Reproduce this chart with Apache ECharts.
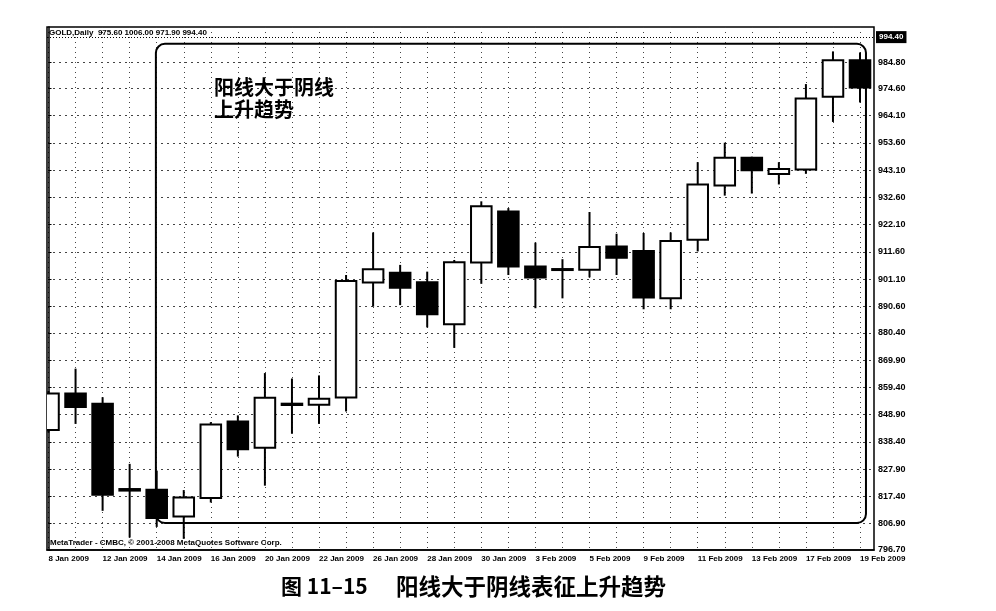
<!DOCTYPE html>
<html>
<head>
<meta charset="utf-8">
<script src="https://cdn.jsdelivr.net/npm/echarts@6/dist/echarts.min.js"></script>
<style>
html,body{margin:0;padding:0;background:#fff;}
#c{width:996px;height:611px;}
</style>
</head>
<body>
<div id="c"></div>
<script>
// ---- data ----
const dates = ['8 Jan 2009','9 Jan 2009','12 Jan 2009','13 Jan 2009','14 Jan 2009','15 Jan 2009','16 Jan 2009',
  '19 Jan 2009','20 Jan 2009','21 Jan 2009','22 Jan 2009','23 Jan 2009','26 Jan 2009','27 Jan 2009','28 Jan 2009',
  '29 Jan 2009','30 Jan 2009','2 Feb 2009','3 Feb 2009','4 Feb 2009','5 Feb 2009','6 Feb 2009','9 Feb 2009',
  '10 Feb 2009','11 Feb 2009','12 Feb 2009','13 Feb 2009','16 Feb 2009','17 Feb 2009','18 Feb 2009','19 Feb 2009'];
const openV  = [843.0,857.0,853.1,819.6,819.9,809.6,816.7,846.2,836.1,853.1,852.7,855.5,899.8,903.6,899.9,883.7,907.5,927.2,906.0,904.8,904.7,913.7,912.0,893.7,916.3,937.2,947.9,941.6,943.4,971.4,985.5];
const closeV = [857.0,851.8,818.0,820.2,809.0,816.9,845.1,835.5,855.4,852.6,855.0,900.4,904.9,897.8,887.6,907.6,929.2,906.0,901.7,905.0,913.5,909.4,894.0,915.8,937.6,947.9,943.1,943.6,970.7,985.5,975.0];
const lowV   = [842.0,845.3,811.8,801.5,805.6,801.0,815.0,832.7,821.5,841.5,845.3,850.1,890.5,891.1,882.5,874.6,899.3,902.7,889.9,893.7,901.8,902.7,889.5,889.5,911.8,933.3,934.1,937.6,941.7,961.7,969.2];
const highV  = [858.0,866.6,855.6,829.9,827.3,819.8,846.0,848.6,864.9,862.8,864.0,902.7,919.1,906.6,904.0,908.5,931.1,928.5,915.2,908.8,927.0,918.6,918.9,919.1,946.2,953.7,948.3,946.2,976.3,988.9,988.5];
const priceTicks = [796.70,806.90,817.40,827.90,838.40,848.90,859.40,869.90,880.40,890.60,901.10,911.60,922.10,932.60,943.10,953.60,964.10,974.60,984.80];
const labelIdx = [0,2,4,6,8,10,12,14,16,18,20,22,24,26,28,30];
const lastPrice = 994.40;
const headerText = 'GOLD,Daily  975.60 1006.00 971.90 994.40';
const copyText = 'MetaTrader - CMBC, © 2001-2008 MetaQuotes Software Corp.';
const noteText = '阳线大于阴线\n上升趋势';
const captionNum = '图 11–15';
const captionText = '阳线大于阴线表征上升趋势';
// annotation frame in data coords: [x from, x to], [price from, price to]
const frameX = [3.97, 30.22];
const frameY = [807.1, 991.8];

const allIdx = dates.map((d, i) => i);
const candleData = dates.map((d, i) => [i, openV[i], closeV[i], lowV[i], highV[i]]);

const chart = echarts.init(document.getElementById('c'), null, {renderer: 'canvas'});
const smallFont = {fontSize: 8, fontWeight: 'bold', color: '#000', fontFamily: 'Liberation Sans'};

function renderCandle(params, api) {
  const x = api.value(0);
  const o = api.value(1), c = api.value(2), l = api.value(3), h = api.value(4);
  const pO = api.coord([x, o]);
  const pC = api.coord([x, c]);
  const pL = api.coord([x, l]);
  const pH = api.coord([x, h]);
  const w = api.size([1, 0])[0] * 0.76;
  const top = Math.min(pO[1], pC[1]);
  const hgt = Math.max(Math.abs(pO[1] - pC[1]), 1);
  const up = c >= o;
  return {
    type: 'group',
    children: [
      {type: 'line', shape: {x1: pH[0], y1: pH[1], x2: pL[0], y2: pL[1]},
        style: {stroke: '#000', lineWidth: 2}},
      {type: 'rect', shape: {x: pO[0] - w / 2, y: top, width: w, height: hgt},
        style: {fill: up ? '#fff' : '#000', stroke: '#000', lineWidth: 2}}
    ]
  };
}

chart.setOption({
  backgroundColor: '#fff',
  animation: false,
  title: [
    {text: headerText, left: 49, top: 29, padding: 0, textStyle: Object.assign({}, smallFont)},
    {text: copyText, left: 50, top: 539, padding: 0, textStyle: Object.assign({}, smallFont)},
    {text: noteText, left: 214, top: 76, padding: 0,
      textStyle: {fontSize: 20, fontWeight: 'bold', color: '#000', lineHeight: 22, fontFamily: 'Noto Sans CJK SC'}},
    {text: captionNum, left: 281, top: 576, padding: 0,
      textStyle: {fontSize: 21, fontWeight: 'bold', color: '#000', fontFamily: 'Noto Sans CJK SC'}},
    {text: captionText, left: 396, top: 575, padding: 0,
      textStyle: {fontSize: 22.5, fontWeight: 'bold', color: '#000', fontFamily: 'Noto Sans CJK SC'}}
  ],
  grid: {left: 47, top: 27, width: 827, height: 523, show: true, borderColor: '#000', borderWidth: 1.5, backgroundColor: '#fff'},
  xAxis: {
    type: 'value',
    min: -0.0555,
    max: 30.517,
    axisLine: {show: true, lineStyle: {color: '#000', width: 1.5}},
    axisTick: {show: false, customValues: allIdx},
    axisLabel: {
      customValues: labelIdx,
      formatter: v => dates[Math.round(v)] || '',
      align: 'left', margin: 5,
      fontSize: 8, fontWeight: 'bold', color: '#000', fontFamily: 'Liberation Sans'
    },
    splitLine: {show: true, lineStyle: {color: '#444', type: [1, 4], width: 1}}
  },
  yAxis: {
    type: 'value',
    position: 'right',
    min: 796.7,
    max: 998.3,
    axisLine: {show: true, lineStyle: {color: '#000', width: 1.5}},
    axisTick: {show: true, length: 3, customValues: priceTicks, lineStyle: {color: '#000'}},
    axisLabel: {
      customValues: priceTicks,
      formatter: v => v.toFixed(2),
      margin: 4,
      fontSize: 9, fontWeight: 'bold', color: '#000', fontFamily: 'Liberation Sans'
    },
    splitLine: {show: true, lineStyle: {color: '#444', type: [2, 4], width: 1}}
  },
  series: [{
    type: 'custom',
    data: candleData,
    encode: {x: 0, y: [1, 2, 3, 4]},
    clip: true,
    renderItem: renderCandle,
    markLine: {
      silent: true,
      symbol: ['none', 'none'],
      data: [{yAxis: lastPrice}],
      lineStyle: {color: '#000', type: [1, 2], width: 1},
      label: {
        position: 'end', distance: 2,
        formatter: lastPrice.toFixed(2),
        color: '#fff', backgroundColor: '#000', padding: [2, 3],
        fontSize: 8, fontWeight: 'bold', fontFamily: 'Liberation Sans'
      },
      emphasis: {disabled: true}
    }
  }]
});

// annotation frame placed through the chart's own scales
const p1 = chart.convertToPixel({gridIndex: 0}, [frameX[0], frameY[1]]);
const p2 = chart.convertToPixel({gridIndex: 0}, [frameX[1], frameY[0]]);
chart.setOption({
  graphic: [{
    type: 'rect', z: 100,
    shape: {x: p1[0], y: p1[1], width: p2[0] - p1[0], height: p2[1] - p1[1], r: 9},
    style: {fill: 'none', stroke: '#000', lineWidth: 2}
  }]
});
</script>
</body>
</html>
